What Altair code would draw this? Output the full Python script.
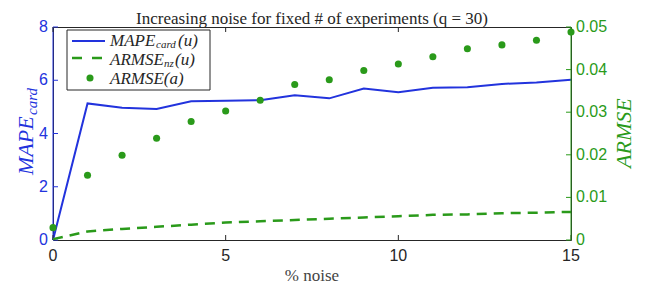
import altair as alt
import pandas as pd

# ---- data ----
noise = list(range(16))
mape_card = [0.0, 5.13, 4.97, 4.92, 5.21, 5.23, 5.25, 5.44, 5.32, 5.69, 5.55, 5.72, 5.74, 5.86, 5.92, 6.02]
armse_nz = [0.0002, 0.0020, 0.0026, 0.0031, 0.0036, 0.0041, 0.0044, 0.0047, 0.0050, 0.0053,
            0.0056, 0.0059, 0.0060, 0.0063, 0.0064, 0.0066]
armse_a = [0.0029, 0.0152, 0.0199, 0.0239, 0.0278, 0.0303, 0.0328, 0.0365, 0.0376, 0.0398,
           0.0413, 0.0430, 0.0449, 0.0458, 0.0469, 0.0488]

x_ticks = [0, 5, 10, 15]
x_tick_labels = ["0", "5", "10", "15"]
left_ticks = [0, 2, 4, 6, 8]
left_tick_labels = ["0", "2", "4", "6", "8"]
right_ticks = [0, 0.01, 0.02, 0.03, 0.04, 0.05]
right_tick_labels = ["0", "0.01", "0.02", "0.03", "0.04", "0.05"]

title_text = "Increasing noise for fixed # of experiments (q = 30)"
x_title = "% noise"

W, H = 518, 213
BLUE = "#2233dd"
GREEN = "#2a9a1a"
DARK = "#262626"
SERIF = "Liberation Serif"
SANS = "Liberation Sans"

df = pd.DataFrame({"noise": noise, "mape": mape_card, "nz": armse_nz, "a": armse_a})
one = pd.DataFrame({"d": [0]})
xt_df = pd.DataFrame({"v": x_ticks, "lab": x_tick_labels})
lt_df = pd.DataFrame({"v": left_ticks, "lab": left_tick_labels})
rt_df = pd.DataFrame({"v": right_ticks, "lab": right_tick_labels})

xs = alt.Scale(domain=[0, 15], nice=False, zero=False)
ly = alt.Scale(domain=[0, 8], nice=False)
ry = alt.Scale(domain=[0, 0.05], nice=False)

# ---------------- left (MAPE) group ----------------
mape_line = alt.Chart(df).mark_line(color=BLUE, strokeWidth=2).encode(
    x=alt.X("noise:Q", scale=xs, axis=None),
    y=alt.Y("mape:Q", scale=ly, axis=None),
)

left_tick_marks = alt.Chart(lt_df).mark_rule(color=BLUE).encode(
    y=alt.Y("v:Q", scale=ly, axis=None), x=alt.value(0), x2=alt.value(5))
left_labels = alt.Chart(lt_df).mark_text(font=SANS, fontSize=16, color=BLUE, align="right",
                                         baseline="middle").encode(
    y=alt.Y("v:Q", scale=ly, axis=None), x=alt.value(-5), text="lab:N")
left_domain = alt.Chart(one).mark_rule(color=BLUE, strokeWidth=1).encode(
    x=alt.value(0), y=alt.value(0), y2=alt.value(H))

bottom_ticks = alt.Chart(xt_df).mark_rule(color=DARK).encode(
    x=alt.X("v:Q", scale=xs, axis=None), y=alt.value(H), y2=alt.value(H - 5))
top_ticks = alt.Chart(xt_df).mark_rule(color=DARK).encode(
    x=alt.X("v:Q", scale=xs, axis=None), y=alt.value(0), y2=alt.value(5))
bottom_labels = alt.Chart(xt_df).mark_text(font=SANS, fontSize=16, color=DARK, align="center",
                                           baseline="top").encode(
    x=alt.X("v:Q", scale=xs, axis=None), y=alt.value(H + 8), text="lab:N")

title_mark = alt.Chart(one).mark_text(text=title_text, font=SERIF, fontSize=17, color=DARK,
                                      align="center", baseline="alphabetic").encode(
    x=alt.value(W / 2), y=alt.value(-3.5))
xtitle_mark = alt.Chart(one).mark_text(text=x_title, font=SERIF, fontSize=17, color="#444444",
                                       align="center", baseline="alphabetic").encode(
    x=alt.value(W / 2), y=alt.value(254))

lt1 = alt.Chart(one).mark_text(text="MAPE", font=SERIF, fontStyle="italic", fontSize=22, color=BLUE,
                               angle=270, align="left", baseline="alphabetic").encode(
    x=alt.value(-20), y=alt.value(148))
lt2 = alt.Chart(one).mark_text(text="card", font=SERIF, fontStyle="italic", fontSize=15, color=BLUE,
                               angle=270, align="left", baseline="alphabetic").encode(
    x=alt.value(-16), y=alt.value(88))

left_group = alt.layer(mape_line, left_tick_marks, left_labels, left_domain, bottom_ticks, top_ticks,
                       bottom_labels, title_mark, xtitle_mark, lt1, lt2)

# ---------------- right (ARMSE) group ----------------
nz_line = alt.Chart(df).mark_line(color=GREEN, strokeWidth=2.5, strokeDash=[10, 7]).encode(
    x=alt.X("noise:Q", scale=xs, axis=None),
    y=alt.Y("nz:Q", scale=ry, axis=None),
)
a_dots = alt.Chart(df).mark_point(filled=True, color=GREEN, size=50, opacity=1).encode(
    x=alt.X("noise:Q", scale=xs, axis=None),
    y=alt.Y("a:Q", scale=ry, axis=None),
)
right_tick_marks = alt.Chart(rt_df).mark_rule(color=GREEN).encode(
    y=alt.Y("v:Q", scale=ry, axis=None), x=alt.value(W - 5), x2=alt.value(W))
right_labels = alt.Chart(rt_df).mark_text(font=SANS, fontSize=16, color=GREEN, align="left",
                                          baseline="middle").encode(
    y=alt.Y("v:Q", scale=ry, axis=None), x=alt.value(W + 5), text="lab:N")
right_domain = alt.Chart(one).mark_rule(color=GREEN, strokeWidth=1).encode(
    x=alt.value(W), y=alt.value(0), y2=alt.value(H))

rt = alt.Chart(one).mark_text(text="ARMSE", font=SERIF, fontStyle="italic", fontSize=22, color=GREEN,
                              angle=270, align="left", baseline="alphabetic").encode(
    x=alt.value(578), y=alt.value(141))

# legend
leg_box = alt.Chart(one).mark_rect(fill="white", stroke=DARK, strokeWidth=1).encode(
    x=alt.value(14), x2=alt.value(157), y=alt.value(3), y2=alt.value(63))
leg_l1 = alt.Chart(one).mark_rule(color=BLUE, strokeWidth=2).encode(
    x=alt.value(19), x2=alt.value(52), y=alt.value(14))
leg_l2 = alt.Chart(one).mark_rule(color=GREEN, strokeWidth=2.5, strokeDash=[10, 10]).encode(
    x=alt.value(19), x2=alt.value(50), y=alt.value(31))
leg_l3 = alt.Chart(one).mark_point(filled=True, color=GREEN, size=50, opacity=1).encode(
    x=alt.value(37), y=alt.value(51))


def txt(t, x, y, size):
    return alt.Chart(one).mark_text(text=t, font=SERIF, fontStyle="italic", fontSize=size, color=DARK,
                                    align="left", baseline="alphabetic").encode(x=alt.value(x), y=alt.value(y))


legend_texts = [
    txt("MAPE", 57, 19, 17), txt("card", 103, 21, 11), txt("(u)", 125, 19, 17),
    txt("ARMSE", 57, 38, 17), txt("nz", 111, 40, 11), txt("(u)", 122, 38, 17),
    txt("ARMSE(a)", 57, 57, 17),
]

right_group = alt.layer(nz_line, a_dots, right_tick_marks, right_labels, right_domain, rt,
                        leg_box, leg_l1, leg_l2, leg_l3, *legend_texts)

chart = alt.layer(left_group, right_group).resolve_scale(y="independent").properties(
    width=W, height=H,
    padding={"left": 45, "top": 19, "right": 75, "bottom": 44},
    autosize=alt.AutoSizeParams(type="none"),
).configure_view(stroke=DARK, strokeWidth=1)

chart.save("out.html", embed_options={"renderer": "svg", "actions": False})
